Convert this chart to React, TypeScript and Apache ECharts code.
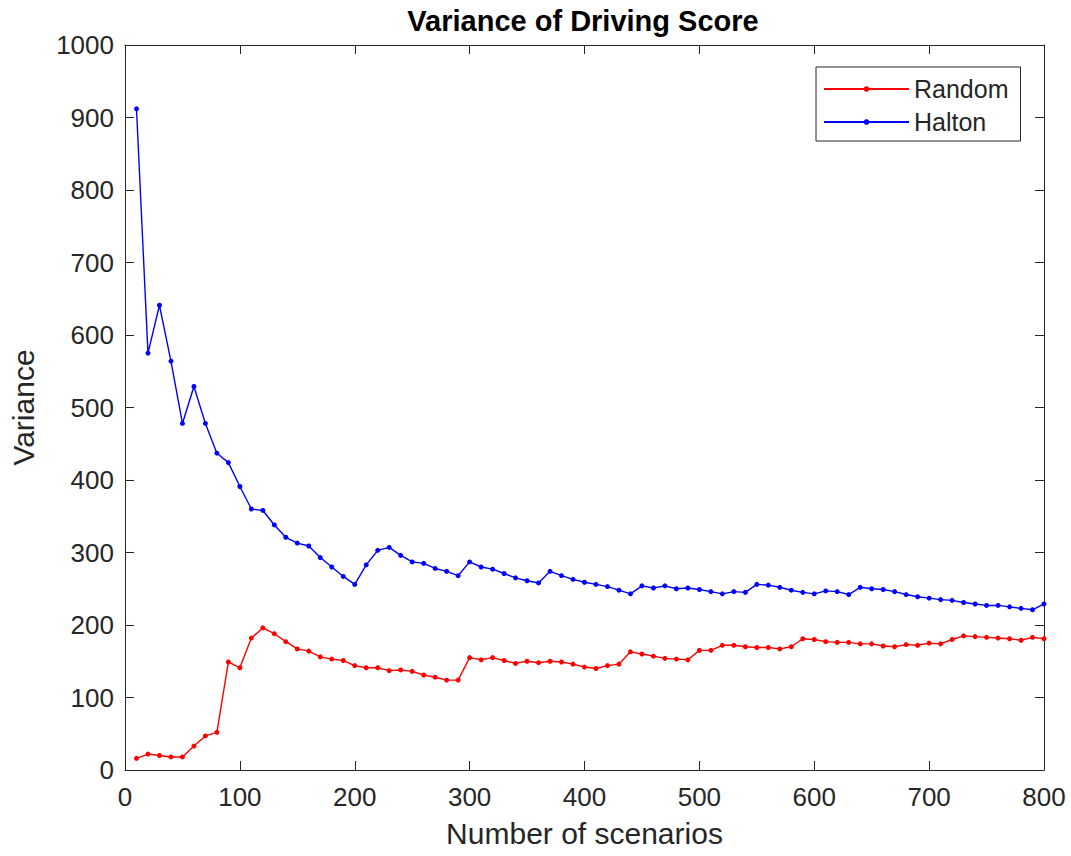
import React, { useEffect, useRef } from "react";
import * as echarts from "echarts";

const scenarios = [10,20,30,40,50,60,70,80,90,100,110,120,130,140,150,160,170,180,190,200,210,220,230,240,250,260,270,280,290,300,310,320,330,340,350,360,370,380,390,400,410,420,430,440,450,460,470,480,490,500,510,520,530,540,550,560,570,580,590,600,610,620,630,640,650,660,670,680,690,700,710,720,730,740,750,760,770,780,790,800];

const randomVar = [16,22,20,18,18,33,47,52,149,141,182,196,188,177,167,164,156,153,151,144,141,141,137,138,136,131,128,124,124,155,152,155,151,147,150,148,150,149,146,142,140,144,146,163,160,157,154,153,152,165,165,172,172,170,169,169,167,170,181,180,177,176,176,174,174,171,170,173,172,175,174,180,185,184,183,182,181,179,183,181];

const haltonVar = [912,575,641,564,478,529,478,437,424,391,360,358,338,321,313,309,293,280,267,256,283,303,307,296,287,285,278,274,268,287,280,277,271,265,261,258,274,268,263,259,256,253,248,243,254,251,254,250,251,249,246,243,246,245,256,255,252,248,245,243,247,246,242,252,250,249,246,242,239,237,235,234,231,229,227,227,225,223,221,229];

const xTicks = { min: 0, max: 800, interval: 100 };
const yTicks = { min: 0, max: 1000, interval: 100 };

const FONT = "'Liberation Sans', Arial, Helvetica, sans-serif";
const AX = "#262626";

export default function App() {
  const ref = useRef<HTMLDivElement>(null);
  useEffect(() => {
    if (!ref.current) return;
    const chart = echarts.init(ref.current, undefined, { renderer: "svg" });
    const axisLineStyle = () => ({ show: true, onZero: false, lineStyle: { color: AX, width: 1 } });
    const tick = () => ({ show: true, inside: true, length: 9, lineStyle: { color: AX, width: 1 } });
    const plain = (v: number) => String(v);
    chart.setOption({
      animation: false,
      backgroundColor: "#ffffff",
      title: {
        text: "Variance of Driving Score",
        left: 583,
        top: 6,
        textAlign: "center",
        padding: 0,
        textStyle: { fontFamily: FONT, fontSize: 29, fontWeight: "bold", color: "#000000" },
      },
      legend: {
        orient: "vertical",
        left: 816,
        top: 67,
        padding: [8, 12, 5, 7],
        itemWidth: 85,
        itemHeight: 7,
        itemGap: 5,
        borderColor: AX,
        borderWidth: 1,
        backgroundColor: "#ffffff",
        textStyle: { fontFamily: FONT, fontSize: 25, color: AX, lineHeight: 28 },
        data: ["Random", "Halton"],
      },
      grid: { left: 123, top: 45, width: 921, height: 725, containLabel: false },
      xAxis: [
        {
          type: "value",
          min: xTicks.min,
          max: xTicks.max,
          interval: xTicks.interval,
          name: "Number of scenarios",
          nameLocation: "middle",
          nameGap: 48,
          nameTextStyle: { fontFamily: FONT, fontSize: 30, color: AX, verticalAlign: "top" },
          axisLine: axisLineStyle(),
          axisTick: tick(),
          axisLabel: { fontFamily: FONT, fontSize: 26, color: AX, margin: 14, formatter: plain },
          splitLine: { show: false },
        },
        {
          type: "value",
          position: "top",
          min: xTicks.min,
          max: xTicks.max,
          interval: xTicks.interval,
          axisLine: axisLineStyle(),
          axisTick: tick(),
          axisLabel: { show: false },
          splitLine: { show: false },
        },
      ],
      yAxis: [
        {
          type: "value",
          min: yTicks.min,
          max: yTicks.max,
          interval: yTicks.interval,
          name: "Variance",
          nameLocation: "middle",
          nameGap: 87,
          nameTextStyle: { fontFamily: FONT, fontSize: 30, color: AX },
          axisLine: axisLineStyle(),
          axisTick: tick(),
          axisLabel: { fontFamily: FONT, fontSize: 26, color: AX, margin: 11, formatter: plain },
          splitLine: { show: false },
        },
        {
          type: "value",
          position: "right",
          min: yTicks.min,
          max: yTicks.max,
          interval: yTicks.interval,
          axisLine: axisLineStyle(),
          axisTick: tick(),
          axisLabel: { show: false },
          splitLine: { show: false },
        },
      ],
      series: [
        {
          name: "Random",
          type: "line",
          data: scenarios.map((x, i) => [x, randomVar[i]]),
          symbol: "circle",
          symbolSize: 5,
          showAllSymbol: true,
          color: "#ff0000",
          lineStyle: { color: "#ff0000", width: 1.4 },
          itemStyle: { color: "#ff0000" },
        },
        {
          name: "Halton",
          type: "line",
          data: scenarios.map((x, i) => [x, haltonVar[i]]),
          symbol: "circle",
          symbolSize: 5,
          showAllSymbol: true,
          color: "#0000ff",
          lineStyle: { color: "#0000ff", width: 1.4 },
          itemStyle: { color: "#0000ff" },
        },
      ],
    });
    return () => chart.dispose();
  }, []);
  return (
    <div
      ref={ref}
      style={{ position: "fixed", left: 0, top: 0, width: 1071, height: 856, background: "#fff" }}
    />
  );
}
